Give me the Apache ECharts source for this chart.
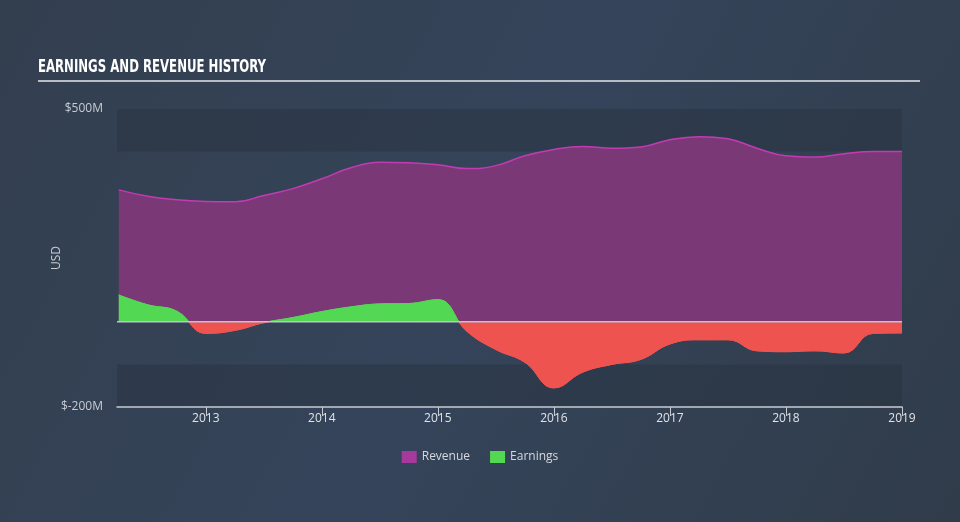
<!DOCTYPE html>
<html><head><meta charset="utf-8">
<script src="https://cdn.jsdelivr.net/npm/echarts@6/dist/echarts.min.js"></script>
<style>html,body{margin:0;padding:0;background:#333f4f;}#c{width:960px;height:522px;}</style>
</head><body><div id="c"></div>
<script>
// Quarter positions (decimal years)
const quarters = [2012.25,2012.5,2012.75,2013.0,2013.25,2013.5,2013.75,2014.0,2014.25,2014.5,2014.75,2015.0,2015.25,2015.5,2015.75,2016.0,2016.25,2016.5,2016.75,2017.0,2017.25,2017.5,2017.75,2018.0,2018.25,2018.5,2018.75,2019.0];
// Values in USD millions
const revenue = [310,295,287,283,282,297,313,336,362,375,374,369,360,367,390,405,412,408,411,428,435,430,408,390,387,395,400,400];
const earnings = [63,40,25,-27,-20,-2,10,24,35,42,43,52,-22,-65,-95,-155,-118,-100,-88,-52,-42,-42,-68,-70,-68,-73,-27,-26];
const yearTicks = [2013,2014,2015,2016,2017,2018,2019];
const yLabels = {500:'$500M', '-200':'$-200M'};

const GREEN = '#53d853', RED = '#ef5350';
const chart = echarts.init(document.getElementById('c'));
const pair = (xs, ys) => xs.map((x,i)=>[x, ys[i]]);
const grid = {left:117, right:58, top:109, bottom:115};
chart.setOption({
  backgroundColor: new echarts.graphic.LinearGradient(0,0,1,1,[{offset:0,color:'#333f4f'},{offset:0.5,color:'#35445a'},{offset:1,color:'#303c4a'}]),
  animation:false,
  graphic:[
    {type:'text', left:38, top:59, scaleX:0.69, style:{text:'EARNINGS AND REVENUE HISTORY', fill:'#ffffff',
      font:'bold 17px "DejaVu Sans", sans-serif'}},
    {type:'rect', shape:{x:38,y:80,width:882,height:2}, style:{fill:'#b8bcc4'}}],
  legend:{bottom:54, left:'center', itemWidth:15, itemHeight:12, itemGap:20, icon:'rect',
    textStyle:{color:'#d6d9de', fontSize:12, fontFamily:'Open Sans, sans-serif'},
    data:[{name:'Revenue', itemStyle:{color:'#a63a9c'}},{name:'Earnings', itemStyle:{color:GREEN}}]},
  grid:grid,
  xAxis:{type:'value', min:2012.235, max:2019.0,
    axisLine:{show:true, onZero:false, lineStyle:{color:'#c7ccd4', width:1.5}},
    axisTick:{show:true, customValues:yearTicks, length:9, lineStyle:{color:'#c7ccd4'}},
    axisLabel:{customValues:yearTicks, color:'#e0e3e8', fontSize:12, margin:6, fontFamily:'Open Sans, sans-serif',
      formatter:v=>String(v)},
    splitLine:{show:false}},
  yAxis:{type:'value', min:-200, max:500, interval:100,
    name:'USD', nameLocation:'middle', nameGap:54, nameRotate:90, nameMoveOverlap:false,
    nameTextStyle:{color:'#c7ccd4', fontSize:12, fontFamily:'Open Sans, sans-serif'},
    axisLine:{show:false}, axisTick:{show:false},
    axisLabel:{color:'#c7ccd4', fontSize:12, margin:14, fontFamily:'Open Sans, sans-serif',
      formatter:v=> yLabels[v] || ''},
    splitLine:{show:false},
    splitArea:{show:true, areaStyle:{color:['rgba(38,48,60,0.4)','rgba(0,0,0,0)','rgba(0,0,0,0)','rgba(0,0,0,0)','rgba(0,0,0,0)','rgba(0,0,0,0)','rgba(38,48,60,0.4)']}}},
  series:[
    {name:'Revenue', type:'line', data:pair(quarters,revenue), smooth:0.45, symbol:'none',
      lineStyle:{color:'#c23bb3', width:1.5}, itemStyle:{color:'#a63a9c'},
      areaStyle:{color:'#7a3876', opacity:1}, z:2},
    {name:'Earnings', type:'line', data:pair(quarters,earnings), smooth:0.45, symbol:'none',
      lineStyle:{width:1}, itemStyle:{color:GREEN},
      areaStyle:{opacity:1}, z:3},
    {name:'zero', type:'line', data:[[2012.235,0],[2019.0,0]], symbol:'none', silent:true,
      lineStyle:{color:'#c0c4cc', width:1.5}, z:5, legendHoverLink:false}
  ]
});
// colour the earnings area green above zero and red below, using the axis scale
const zeroY = chart.convertToPixel({yAxisIndex:0}, 0);
const topY = chart.convertToPixel({yAxisIndex:0}, 500);
const botY = chart.convertToPixel({yAxisIndex:0}, -200);
const f = (zeroY - topY) / (botY - topY);
const grad = () => new echarts.graphic.LinearGradient(0, topY, 0, botY, [
  {offset:0,color:GREEN},{offset:f,color:GREEN},{offset:f,color:RED},{offset:1,color:RED}], true);
chart.setOption({series:[{},{areaStyle:{color:grad()}, lineStyle:{color:grad()}}]});
</script></body></html>
